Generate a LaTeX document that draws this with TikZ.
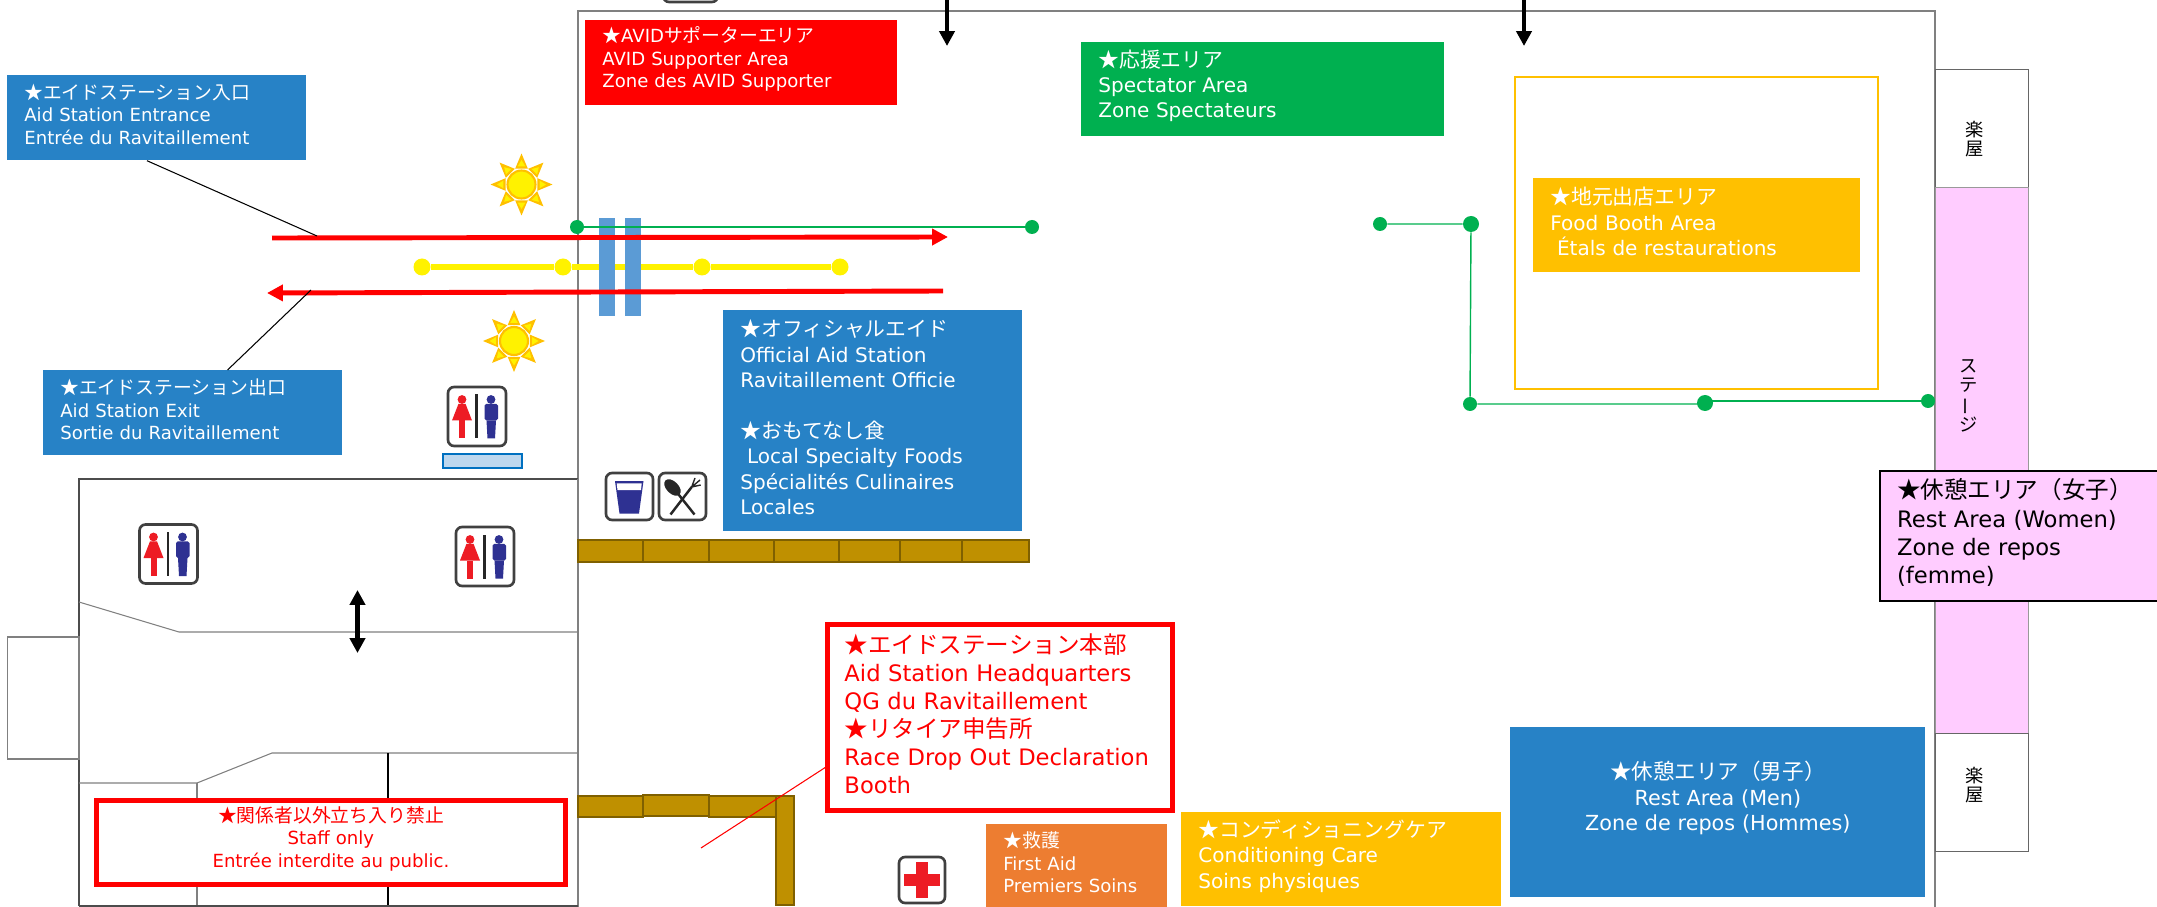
\documentclass[tikz,border=0pt]{standalone}
\usepackage{graphicx}
\usepackage{fontspec}
\setmainfont{DejaVu Sans}
\newfontfamily\cjk[Scale=1.04]{Noto Sans CJK JP}
\usetikzlibrary{arrows.meta}
\newcommand{\px}{0.02cm}
\newcommand{\jp}[1]{{\cjk #1}}
\definecolor{zoneblue}{HTML}{2782C6}
\definecolor{barblue}{HTML}{5B9BD5}
\definecolor{zonegreen}{HTML}{00B050}
\definecolor{zonegold}{HTML}{FFC000}
\definecolor{zoneorange}{HTML}{ED7D31}
\definecolor{stagepink}{HTML}{FFCCFF}
\definecolor{tilefill}{HTML}{BF9000}
\definecolor{tileline}{HTML}{7F6000}
\definecolor{iconnavy}{HTML}{2E3192}
\definecolor{iconred}{HTML}{ED1C24}
\definecolor{shelffill}{HTML}{BDD7EE}
\definecolor{shelfline}{HTML}{0070C0}
\tikzset{
  zone/.style n args={2}{rectangle, anchor=north west, inner sep=0pt, text=white, align=left,
    minimum width=#1*\px, minimum height=#2*\px, text width=(#1-34)*\px,
    execute at end node=\par\vspace{4pt}, font=\fontsize{11.4}{14.5}\selectfont},
  smalltext/.style={font=\fontsize{10.3}{12.8}\selectfont},
  bigtext/.style={font=\fontsize{12.9}{16}\selectfont},
  wall/.style={draw=gray, line width=0.6pt},
  darkwall/.style={draw=black!70, line width=0.7pt},
  room/.style={wall, fill=white},
  roombox/.style={rectangle, anchor=north west, inner sep=0pt, minimum width=93*\px, draw=black!60, line width=0.6pt},
  roomlabel/.style={inner sep=0pt, align=center, font=\fontsize{10}{10.8}\selectfont\cjk},
  redarrow/.style={red, line width=2.8pt, -{Triangle[length=9pt,width=9pt]}},
  blackarrow/.style={black, line width=2.4pt, -{Triangle[length=8.5pt,width=8.6pt]}},
  greenline/.style={draw=zonegreen, line width=0.8pt},
  gdot/.style={circle, fill=zonegreen, inner sep=0pt, minimum size=14*\px},
  ydot/.style={circle, fill=yellow, inner sep=0pt, minimum size=17*\px},
  tile/.style={fill=tilefill, draw=tileline, line width=1.1pt},
  iconbox/.style={fill=white, draw=black!75, line width=1.5pt, rounded corners=3.5pt},
  wcicon/.pic={
    \draw[iconbox] (-29,-29.5) rectangle (29,29.5);
    \fill[iconred] (-15,-17) circle (4.4);
    \fill[iconred] (-18.5,-12.7) -- (-11.5,-12.7) -- (-5,4) -- (-25,4) -- cycle;
    \fill[iconred] (-18,4) rectangle (-11.8,22);
    \fill[black!85] (-2,-22) rectangle (0.8,22);
    \fill[iconnavy] (14,-17) circle (4.4);
    \fill[iconnavy,rounded corners=1pt] (7.5,-12.7) rectangle (21,4);
    \fill[iconnavy] (9.5,4) -- (19,4) -- (18,22) -- (10.5,22) -- cycle;
  },
  sunicon/.pic={
    \foreach \a in {0,45,...,315} {
      \fill[zonegold] (\a-22:17) -- (\a:31) -- (\a+22:17) -- cycle;
      \fill[yellow] (\a-12:18.5) -- (\a:24.5) -- (\a+12:18.5) -- cycle;
    }
    \draw[fill=yellow, draw=zonegold, line width=1.2pt] (0,0) circle (14);
  },
}
\begin{document}
\begin{tikzpicture}[x=\px,y=-\px]
% hall outline
\draw[wall] (578,907) -- (578,11) -- (1935,11) -- (1935,907);
\draw[iconbox] (663,-40) rectangle (718,2);
% lower left building
\draw[darkwall] (79,906) -- (79,479) -- (578,479);
\draw[wall] (578,479) -- (578,906);
\draw[wall] (79,602) -- (179,632) -- (578,632);
\draw[wall] (79,783) -- (197,783) -- (272,753) -- (578,753);
\draw[wall] (197,783) -- (197,906);
\draw[black,line width=0.8pt] (388,753) -- (388,906);
\draw[darkwall,line width=1pt] (79,906) -- (578,906);
\draw[room] (7.5,637) rectangle (79,759);
% walkway
\node[ydot] (y1) at (422,267) {};
\node[ydot] (y2) at (563,267) {};
\node[ydot] (y3) at (702,267) {};
\node[ydot] (y4) at (840,267) {};
\draw[yellow,line width=3.4pt] (y1) -- (y2) -- (y3) -- (y4);
\fill[barblue] (599,218) rectangle (615,316);
\fill[barblue] (625,218) rectangle (641,316);
% green tape
\node[gdot] (ga) at (577,227) {};
\node[gdot] (gb) at (1032,227) {};
\draw[greenline] (ga) -- (gb);
\node[gdot] (gc) at (1380,224) {};
\node[gdot,minimum size=16*\px] (gd) at (1471,224) {};
\node[gdot] (ge) at (1470,404) {};
\node[gdot,minimum size=16*\px] (gf) at (1705,403) {};
\node[gdot] (gg) at (1928,401) {};
\draw[greenline] (gc) -- (gd) -- (ge) -- (ge -| gf);
\draw[greenline] (gg -| gf) -- (gg);
% course arrows
\coordinate (inA) at (272,238);
\coordinate (inB) at (948,237);
\coordinate (outA) at (943,291);
\coordinate (outB) at (267,293);
\draw[redarrow] (inA) -- (inB);
\draw[redarrow] (outA) -- (outB);
\coordinate (topA) at (947,-2);
\coordinate (topB) at (947,46);
\coordinate (topC) at (1524,-2);
\coordinate (topD) at (1524,46);
\draw[blackarrow] (topA) -- (topB);
\draw[blackarrow] (topC) -- (topD);
\coordinate (updown) at (357.5,590);
\coordinate (downup) at (357.5,653);
\draw[blackarrow,{Triangle[length=8.5pt,width=8.6pt]}-{Triangle[length=8.5pt,width=8.6pt]}] (updown) -- (downup);
% area boxes
\node[zone={299}{85},fill=zoneblue,smalltext] (entrance) at (7,75) {\jp{★エイドステーション入口}\\Aid Station Entrance\\Entrée du Ravitaillement};
\node[zone={299}{85},fill=zoneblue,smalltext] (exitbox) at (43,370) {\jp{★エイドステーション出口}\\Aid Station Exit\\Sortie du Ravitaillement};
\node[zone={312}{85},fill=red,smalltext] (avid) at (585,20) {\jp{★}AVID\jp{サポーターエリア}\\AVID Supporter Area\\Zone des AVID Supporter};
\node[zone={363}{94},fill=zonegreen] (spectator) at (1081,42) {\jp{★応援エリア}\\Spectator Area\\Zone Spectateurs};
\draw[draw=zonegold,line width=1.5pt] (1515,77) rectangle (1878,389);
\node[zone={327}{94},fill=zonegold] (food) at (1533,178) {\jp{★地元出店エリア}\\Food Booth Area\\\ Étals de restaurations};
\node[zone={299}{221},fill=zoneblue] (official) at (723,310) {\jp{★オフィシャルエイド}\\Official Aid Station\\Ravitaillement Officie\\[14.5pt]\jp{★おもてなし食}\\\ Local Specialty Foods\\Spécialités Culinaires\\Locales};
\node[zone={415}{170},fill=zoneblue,align=center,font=\fontsize{11.8}{14.5}\selectfont] (restmen) at (1510,727) {\jp{★休憩エリア（男子）}\\Rest Area (Men)\\Zone de repos (Hommes)\\\mbox{}};
\node[zone={320}{94},fill=zonegold] (care) at (1181,812) {\jp{★コンディショニングケア}\\Conditioning Care\\Soins physiques};
\node[zone={181}{83},fill=zoneorange,smalltext] (firstaid) at (986,824) {\jp{★救護}\\First Aid\\Premiers Soins};
% callout lines
\coordinate (inmark) at (317,236);
\coordinate (outmark) at (311,290);
\draw[black,line width=0.6pt] (entrance.-103) -- (inmark);
\draw[black,line width=0.6pt] (exitbox.51) -- (outmark);
% tiles
\foreach \xa/\xb in {578/643,643/709,709/774,774/839,839/900,900/962,962/1029}
  \draw[tile] (\xa,540) rectangle (\xb,562);
\draw[tile] (578,796) rectangle (643,817);
\draw[tile] (709,796) rectangle (776,817);
\draw[tile] (643,795) rectangle (709,816);
\draw[tile] (776,796) rectangle (794,905);
% headquarters
\coordinate (hqmark) at (701,848);
\node[zone={345}{186},fill=white,text=red,draw=red,line width=2.8pt,bigtext] (hq) at (825,622) {\jp{★エイドステーション本部}\\Aid Station Headquarters\\QG du Ravitaillement\\\jp{★リタイア申告所}\\Race Drop Out Declaration\\Booth};
\draw[red,line width=0.6pt] (hq.-164) -- (hqmark);
\node[zone={469}{84},fill=white,text=red,draw=red,line width=2.8pt,align=center,smalltext] (staff) at (94,798) {\jp{★関係者以外立ち入り禁止}\\Staff only\\Entrée interdite au public.};
% stage
\node[roombox,minimum height=118*\px,fill=white] (roomtop) at (1935,69) {};
\node[roombox,minimum height=546*\px,draw=black!40,fill=stagepink] (stage) at (1935,187) {};
\node[roombox,minimum height=118*\px,fill=white] (roombottom) at (1935,733) {};
\node[roomlabel] (roomtoplabel) at (1975,139.5) {楽\\屋};
\node[roomlabel] (roombottomlabel) at (1975,785) {楽\\屋};
\node[roomlabel] (stagelabel) at (1969,396) {ス\\テ\\\rotatebox[origin=c]{90}{ー}\\ジ};
\node[zone={290}{130},fill=stagepink,text=black,draw=black,line width=1.2pt,bigtext] (restwomen) at (1879,470) {\jp{★休憩エリア（女子）}\\Rest Area (Women)\\Zone de repos\\(femme)};
% icons
\pic at (477,416.5) {wcicon};
\pic at (168.5,554) {wcicon};
\pic at (485,556.5) {wcicon};
\draw[fill=shelffill,draw=shelfline,line width=1.1pt] (443,454) rectangle (522,468);
\pic at (521.5,184.5) {sunicon};
\pic at (514,341) {sunicon};
\draw[iconbox] (606,473) rectangle (653,520);
\fill[iconnavy] (615,481) -- (643.5,481) -- (639,513.5) -- (619.5,513.5) -- cycle;
\fill[white] (616.7,483.3) -- (641.7,483.3) -- (641,490) -- (617.5,490) -- cycle;
\draw[iconbox] (659,473) rectangle (706,520);
\fill[black!85,rotate around={-45:(672.5,487.5)}] (672.5,487.5) ellipse (10 and 6);
\draw[black!85,line width=1.4pt] (675,490) -- (694.5,514.5);
\draw[black!85,line width=1.4pt] (670.5,514.5) -- (691.7,487);
\draw[black!85,line width=0.8pt] (691.7,487) -- (700.7,485) (691.7,487) -- (700,480) (691.7,487) -- (695,478);
\draw[iconbox] (899,857) rectangle (945,903);
\fill[iconred] (916,862) rectangle (928,898);
\fill[iconred] (904,874) rectangle (940,886);
\pgfresetboundingbox
\useasboundingbox (0,0) rectangle (2157,906.5);
\end{tikzpicture}
\end{document}
